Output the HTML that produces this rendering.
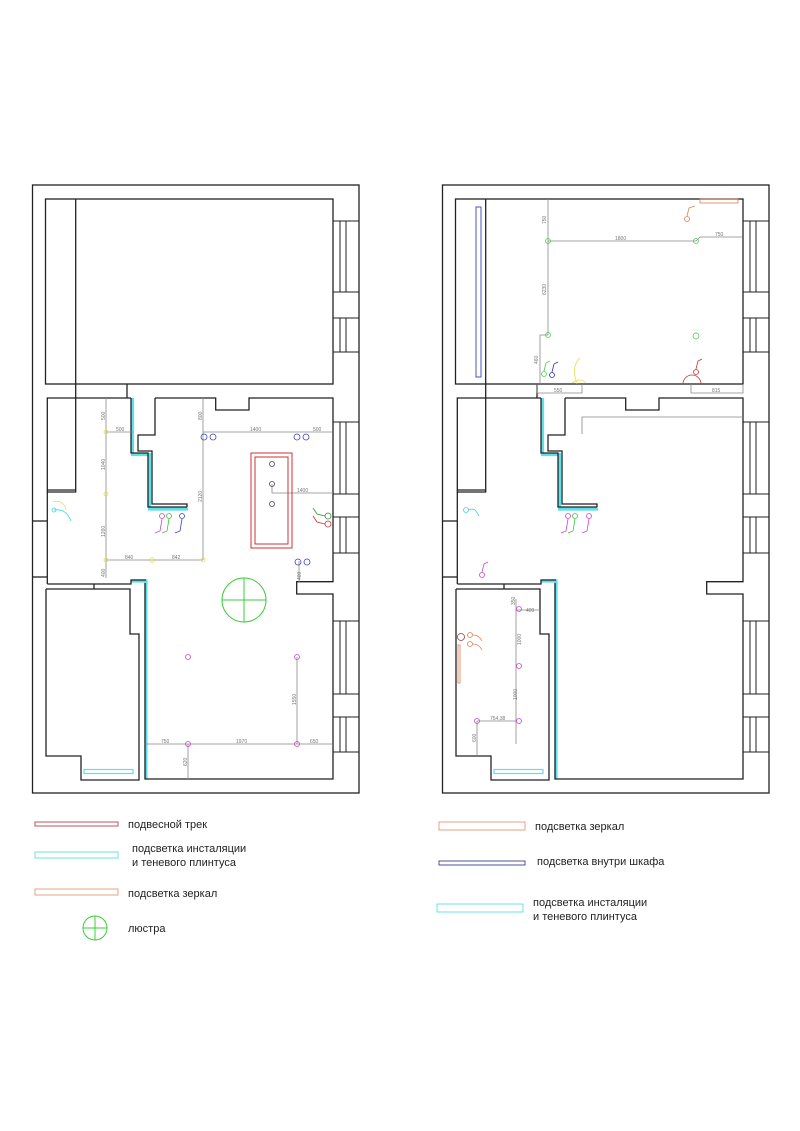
<!DOCTYPE html>
<html><head><meta charset="utf-8"><style>
html,body{margin:0;padding:0;background:#fff;width:800px;height:1131px;overflow:hidden}
svg{display:block}
text{font-family:"Liberation Sans",sans-serif}
.d{font-size:5px;fill:#777}
.lg{font-size:11px;fill:#222}
</style></head><body>
<svg width="800" height="1131" viewBox="0 0 800 1131" xmlns="http://www.w3.org/2000/svg">
<defs>
<g id="walls" fill="none" stroke="#222" stroke-width="1.3">
  <g stroke="#5fdfe8" stroke-width="3.2">
    <polyline points="132.5,398 132.5,454.5 149.5,454.5 149.5,509 188,509"/>
    <polyline points="131,581 146,581 146,779"/>
  </g>
  <rect x="84" y="769.5" width="49" height="4" stroke="#5fdfe8" stroke-width="1.2"/>
  <rect x="32.5" y="185" width="326.5" height="608"/>
  <rect x="45.5" y="199" width="287.5" height="185"/>
  <line x1="75.7" y1="199" x2="75.7" y2="398"/>
  <line x1="127" y1="384" x2="127" y2="398"/>
  <g stroke-width="1">
    <rect x="333" y="221" width="26" height="71"/><line x1="340" y1="221" x2="340" y2="292"/><line x1="346" y1="221" x2="346" y2="292"/>
    <rect x="333" y="318" width="26" height="34"/><line x1="340" y1="318" x2="340" y2="352"/><line x1="346" y1="318" x2="346" y2="352"/>
    <rect x="333" y="422" width="26" height="72"/><line x1="340" y1="422" x2="340" y2="494"/><line x1="346" y1="422" x2="346" y2="494"/>
    <rect x="333" y="517" width="26" height="36"/><line x1="340" y1="517" x2="340" y2="553"/><line x1="346" y1="517" x2="346" y2="553"/>
    <rect x="333" y="621" width="26" height="73"/><line x1="340" y1="621" x2="340" y2="694"/><line x1="346" y1="621" x2="346" y2="694"/>
    <rect x="333" y="717" width="26" height="35"/><line x1="340" y1="717" x2="340" y2="752"/><line x1="346" y1="717" x2="346" y2="752"/>
  </g>
  <polyline points="131,398 47.3,398 47.3,492 75.7,492 75.7,398"/>
  <polyline points="75.7,490 47.3,490"/>
  <polyline points="47.3,492 47.3,584"/>
  <line x1="32.5" y1="521" x2="47.3" y2="521"/>
  <line x1="32.5" y1="577" x2="47.3" y2="577"/>
  <polyline points="131,398 131,453 148,453 148,507 187,507"/>
  <polyline points="155,398 155,435 138,435 138,451 152,451 152,504 187,504 187,507"/>
  <polyline points="155,398 215.7,398 215.7,410 249,410 249,398 333,398 333,581.7 296.7,581.7 296.7,594 333,594 333,779 145,779 145,583"/>
  <polyline points="47.3,584 131,584 131,580 146,580"/>
  <line x1="94" y1="584" x2="94" y2="589"/>
  <polyline points="46,589 130,589 130,634 139,634 139,780 81,780 81,756 46,756 46,589"/>
</g>
</defs>

<use href="#walls"/>
<use href="#walls" transform="translate(410,0)"/>

<g fill="none" stroke-width="0.8">
  <g stroke="#888">
    <line x1="106" y1="398" x2="106" y2="578"/>
    <line x1="106" y1="432" x2="133" y2="432"/>
    <line x1="106" y1="560" x2="203" y2="560"/>
    <line x1="203" y1="398" x2="203" y2="560"/>
    <line x1="203" y1="432" x2="333" y2="432"/>
    <polyline points="272,484 272,493 333,493"/>
    <line x1="299" y1="561" x2="299" y2="582"/>
    <line x1="145" y1="744" x2="333" y2="744"/>
    <line x1="297" y1="657" x2="297" y2="744"/>
    <line x1="188" y1="744" x2="188" y2="779"/>
  </g>
  <g stroke="#e8e04a">
    <circle cx="106" cy="432" r="2"/><circle cx="106" cy="494" r="2"/><circle cx="106" cy="560" r="2"/>
    <circle cx="152" cy="560" r="2.5"/><circle cx="203" cy="560" r="2"/>
    <path d="M53,502 q6,-2 10,2 q3,3 3,6"/>
  </g>
  <path d="M54,510 q8,-1 12,3 q4,5 5,8" stroke="#3fd6dc"/>
  <circle cx="54" cy="510" r="2" stroke="#3fd6dc"/>
  <g stroke="#4040c0">
    <circle cx="204" cy="437" r="3"/><circle cx="213" cy="437" r="3"/>
    <circle cx="297" cy="437" r="3"/><circle cx="306" cy="437" r="3"/>
    <circle cx="298" cy="562" r="3"/><circle cx="307" cy="562" r="3"/>
    <circle cx="182" cy="516" r="2.5"/><path d="M182,519 l-2,12 l-5,2"/>
  </g>
  <circle cx="162" cy="516" r="2.5" stroke="#d040d0"/><path d="M162,519 l-2,12 l-5,2" stroke="#d040d0"/>
  <circle cx="169" cy="516" r="2.5" stroke="#40c040"/><path d="M169,519 l-2,12 l-5,2" stroke="#40c040"/>
  <g stroke="#d03030" stroke-width="1">
    <rect x="251" y="453" width="41" height="95"/>
    <rect x="255" y="457" width="33" height="87"/>
  </g>
  <g stroke="#446">
    <circle cx="272" cy="464" r="2.5"/><circle cx="272" cy="484" r="2.5"/><circle cx="272" cy="504" r="2.5"/>
  </g>
  <circle cx="328" cy="516" r="3" stroke="#309030"/><path d="M325,516 l-8,-2 l-4,-6" stroke="#309030"/>
  <circle cx="328" cy="524" r="3" stroke="#d03030"/><path d="M325,524 l-8,-2 l-4,-6" stroke="#d03030"/>
  <g stroke="#3ccc3c" stroke-width="1">
    <circle cx="244" cy="600" r="22"/><line x1="222" y1="600" x2="266" y2="600"/><line x1="244" y1="578" x2="244" y2="622"/>
  </g>
  <g stroke="#d040d0">
    <circle cx="188" cy="657" r="2.5"/><circle cx="297" cy="657" r="2.5"/>
    <circle cx="188" cy="744" r="2.5"/><circle cx="297" cy="744" r="2.5"/>
  </g>
</g>
<g class="d">
  <text x="116" y="431">500</text><text transform="translate(105,420) rotate(-90)">500</text>
  <text transform="translate(105,470) rotate(-90)">1040</text><text transform="translate(105,537) rotate(-90)">1260</text>
  <text transform="translate(105,577) rotate(-90)">400</text>
  <text x="125" y="559">840</text><text x="172" y="559">842</text>
  <text transform="translate(202,420) rotate(-90)">800</text><text transform="translate(202,502) rotate(-90)">2120</text>
  <text x="250" y="431">1400</text><text x="313" y="431">500</text><text x="297" y="492">1400</text>
  <text transform="translate(301,580) rotate(-90)">400</text>
  <text x="161" y="743">750</text><text x="236" y="743">1970</text><text x="310" y="743">650</text>
  <text transform="translate(296,705) rotate(-90)">1550</text><text transform="translate(187,766) rotate(-90)">620</text>
</g>

<g fill="none" stroke-width="0.8">
  <rect x="476" y="207" width="5" height="170" stroke="#5050c0" stroke-width="1"/>
  <g stroke="#888">
    <line x1="548" y1="199" x2="548" y2="335"/>
    <line x1="548" y1="241" x2="696" y2="241"/>
    <polyline points="696,241 700,237 743,237"/>
    <polyline points="548,335 540,335 540,384"/>
    <polyline points="537,384 537,393 582,393 582,384"/>
    <polyline points="691,384 691,393 743,393 743,384"/>
    <polyline points="582,434 582,417 743,417"/>
    <line x1="516" y1="599" x2="516" y2="744"/>
    <line x1="516" y1="610" x2="540" y2="610"/>
    <line x1="477" y1="721" x2="516" y2="721"/>
    <line x1="477" y1="721" x2="477" y2="756"/>
  </g>
  <g stroke="#4cd04c">
    <circle cx="548" cy="241" r="2.5"/><circle cx="696" cy="241" r="2.5"/>
    <circle cx="548" cy="335" r="2.5"/><circle cx="696" cy="336" r="3"/>
    <circle cx="544" cy="374" r="2.5"/><path d="M544,371 l2,-8 l4,-2"/>
  </g>
  <circle cx="552" cy="375" r="2.5" stroke="#3030b0"/><path d="M552,372 l2,-8 l4,-2" stroke="#3030b0"/>
  <path d="M577,384 q-4,-12 -2,-18 q2,-6 5,-8 M572,383 q8,-6 14,0" stroke="#e8e04a"/>
  <circle cx="687" cy="219" r="2.5" stroke="#e08050"/><path d="M687,216 l2,-8 l6,-2" stroke="#e08050"/>
  <rect x="700" y="199" width="38" height="4" stroke="#e08050"/>
  <circle cx="696" cy="372" r="2.5" stroke="#d03030"/><path d="M696,369 l2,-8 l4,-2 M683,384 a9,9 0 0 1 18,0" stroke="#d03030"/>
  <circle cx="466" cy="510" r="2.5" stroke="#3fd6dc"/><path d="M468,510 q6,-2 8,1 q2,3 3,5" stroke="#3fd6dc"/>
  <g stroke="#d040d0">
    <circle cx="568" cy="516" r="2.5"/><path d="M568,519 l-2,12 l-5,2"/>
    <circle cx="589" cy="516" r="2.5"/><path d="M589,519 l-2,12 l-5,2"/>
    <circle cx="482" cy="575" r="2.5"/><path d="M482,572 l2,-8 l4,-2"/>
    <circle cx="519" cy="609" r="2.5"/><circle cx="519" cy="666" r="2.5"/><circle cx="519" cy="721" r="2.5"/><circle cx="477" cy="721" r="2.5"/>
  </g>
  <circle cx="575" cy="516" r="2.5" stroke="#40c040"/><path d="M575,519 l-2,12 l-5,2" stroke="#40c040"/>
  <g stroke="#e08050">
    <circle cx="461" cy="637" r="3.5" stroke="#a04040"/><circle cx="470" cy="635" r="2.5"/><path d="M473,635 q6,0 9,6 M473,644 q6,0 9,6"/>
    <circle cx="470" cy="644" r="2.5"/>
    <rect x="458" y="645" width="2" height="38"/>
  </g>
</g>
<g class="d">
  <text transform="translate(546,224) rotate(-90)">750</text><text transform="translate(546,295) rotate(-90)">6230</text>
  <text x="615" y="240">1800</text><text x="715" y="236">750</text>
  <text transform="translate(538,364) rotate(-90)">460</text>
  <text x="554" y="392">550</text><text x="712" y="392">815</text>
  <text transform="translate(515,605) rotate(-90)">350</text><text x="526" y="612">400</text>
  <text transform="translate(521,645) rotate(-90)">1000</text><text transform="translate(517,700) rotate(-90)">1000</text>
  <text x="490" y="720">754,38</text><text transform="translate(476,742) rotate(-90)">600</text>
</g>

<g fill="none" stroke-width="1">
  <rect x="35" y="822" width="83" height="4" stroke="#c05060"/>
  <rect x="35" y="852" width="83" height="6" stroke="#6ee0e4"/>
  <rect x="35" y="889" width="83" height="6" stroke="#e8a080"/>
  <g stroke="#3ccc3c"><circle cx="95" cy="928" r="12"/><line x1="83" y1="928" x2="107" y2="928"/><line x1="95" y1="916" x2="95" y2="940"/></g>
  <rect x="439" y="822" width="86" height="8" stroke="#e8a080"/>
  <rect x="439" y="861" width="86" height="4" stroke="#5050a0"/>
  <rect x="437" y="904" width="86" height="8" stroke="#6ee0e4"/>
</g>
<g class="lg">
  <text x="128" y="828">подвесной трек</text>
  <text x="132" y="852">подсветка инсталяции</text>
  <text x="132" y="866">и теневого плинтуса</text>
  <text x="128" y="897">подсветка зеркал</text>
  <text x="128" y="932">люстра</text>
  <text x="535" y="830">подсветка зеркал</text>
  <text x="537" y="865">подсветка внутри шкафа</text>
  <text x="533" y="906">подсветка инсталяции</text>
  <text x="533" y="920">и теневого плинтуса</text>
</g>
</svg>
</body></html>
